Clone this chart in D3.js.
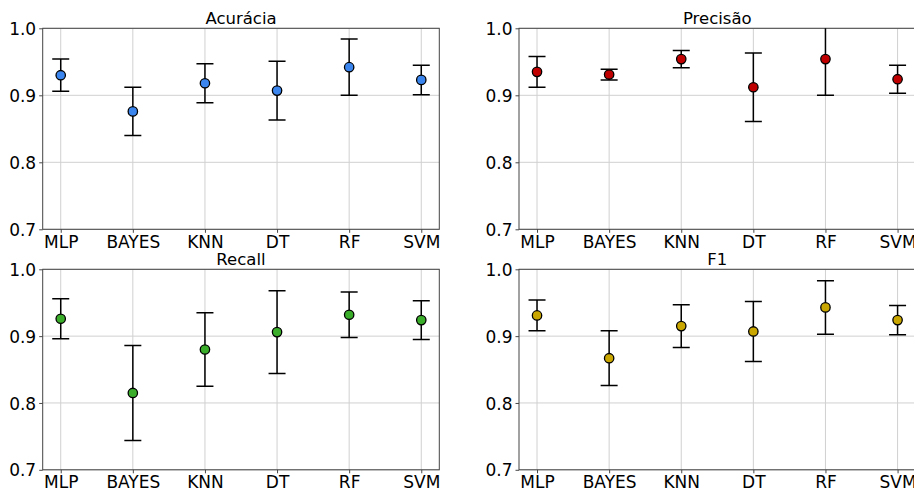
<!DOCTYPE html>
<html>
<head>
<meta charset="utf-8">
<script src="https://cdn.jsdelivr.net/npm/d3@7"></script>
<style>
  body { margin: 0; background: #fff; }
  svg { display: block; font-family: "DejaVu Sans", sans-serif; }
</style>
</head>
<body>
<div id="chart"></div>
<script>
// categories and tick labels
const models = ["MLP", "BAYES", "KNN", "DT", "RF", "SVM"]
const yTicks = [0.7, 0.8, 0.9, 1.0]

// mean score and std (error) for each metric
const accMean = [0.930, 0.876, 0.918, 0.907, 0.942, 0.923]
const accErr = [0.024, 0.036, 0.029, 0.044, 0.042, 0.022]
const precMean = [0.935, 0.931, 0.954, 0.912, 0.954, 0.924]
const precErr = [0.023, 0.008, 0.013, 0.051, 0.054, 0.021]
const recMean = [0.926, 0.815, 0.880, 0.906, 0.932, 0.924]
const recErr = [0.030, 0.071, 0.055, 0.062, 0.034, 0.029]
const f1Mean = [0.931, 0.867, 0.915, 0.907, 0.943, 0.924]
const f1Err = [0.023, 0.041, 0.032, 0.045, 0.040, 0.022]

const width = 914
const height = 491

const panels = [
    { title: "Acurácia", mean: accMean, err: accErr, color: "#3b86ee", x: 42.7, y: 28.3, h: 201 },
    { title: "Precisão", mean: precMean, err: precErr, color: "#c00000", x: 519, y: 28.3, h: 201 },
    { title: "Recall", mean: recMean, err: recErr, color: "#3aad2b", x: 42.7, y: 269.3, h: 200.5 },
    { title: "F1", mean: f1Mean, err: f1Err, color: "#c9a600", x: 519, y: 269.3, h: 200.5 }
]
const plotW = 396.6

var svg = d3.select("#chart")
    .append("svg")
    .attr("width", width)
    .attr("height", height)

panels.forEach(function (p, i) {
    const x = d3.scalePoint()
        .domain(models)
        .range([0, plotW])
        .padding(0.25)
    const y = d3.scaleLinear()
        .domain([0.7, 1.0])
        .range([p.h, 0])

    const g = svg.append("g")
        .attr("transform", `translate(${p.x},${p.y})`)

    g.append("clipPath")
        .attr("id", "clip" + i)
        .append("rect")
        .attr("width", plotW)
        .attr("height", p.h)

    // grid
    g.append("g")
        .selectAll("line")
        .data(yTicks)
        .enter()
        .append("line")
        .attr("x1", 0).attr("x2", plotW)
        .attr("y1", d => y(d)).attr("y2", d => y(d))
        .style("stroke", "#d0d0d0")
        .style("stroke-width", 1)
    g.append("g")
        .selectAll("line")
        .data(models)
        .enter()
        .append("line")
        .attr("x1", d => x(d)).attr("x2", d => x(d))
        .attr("y1", 0).attr("y2", p.h)
        .style("stroke", "#d0d0d0")
        .style("stroke-width", 1)

    // axes
    const xAxis = g.append("g")
        .attr("transform", `translate(0,${p.h})`)
        .call(d3.axisBottom(x).tickSize(3.5).tickPadding(3))
    const yAxis = g.append("g")
        .call(d3.axisLeft(y).tickValues(yTicks).tickFormat(d3.format(".1f")).tickSize(3.5).tickPadding(3))
    ;[xAxis, yAxis].forEach(function (a) {
        a.select(".domain").remove()
        a.selectAll("line").style("stroke", "#333").style("stroke-width", 0.9)
        a.selectAll("text").style("font-size", "17px").style("fill", "#000")
            .style("font-family", "'DejaVu Sans', sans-serif")
    })
    yAxis.selectAll("text").attr("dy", "0.36em")

    // frame
    g.append("rect")
        .attr("width", plotW)
        .attr("height", p.h)
        .style("fill", "none")
        .style("stroke", "#444")
        .style("stroke-width", 1)

    // error bars
    const eb = g.append("g").attr("clip-path", `url(#clip${i})`)
    const rows = models.map((m, k) => ({ m: m, v: p.mean[k], e: p.err[k] }))
    eb.selectAll(".stem")
        .data(rows)
        .enter()
        .append("line")
        .attr("x1", d => x(d.m)).attr("x2", d => x(d.m))
        .attr("y1", d => y(d.v - d.e)).attr("y2", d => y(d.v + d.e))
        .style("stroke", "#000").style("stroke-width", 1.5)
    ;[-1, 1].forEach(function (s) {
        eb.selectAll(".cap" + s)
            .data(rows)
            .enter()
            .append("line")
            .attr("x1", d => x(d.m) - 8.5).attr("x2", d => x(d.m) + 8.5)
            .attr("y1", d => y(d.v + s * d.e)).attr("y2", d => y(d.v + s * d.e))
            .style("stroke", "#000").style("stroke-width", 1.5)
    })
    eb.selectAll("circle")
        .data(rows)
        .enter()
        .append("circle")
        .attr("cx", d => x(d.m))
        .attr("cy", d => y(d.v))
        .attr("r", 4.7)
        .style("fill", p.color)
        .style("stroke", "#000")
        .style("stroke-width", 1.3)

    // title
    g.append("text")
        .attr("x", plotW / 2)
        .attr("y", -4.5)
        .attr("text-anchor", "middle")
        .style("font-size", "16.5px")
        .text(p.title)
})
</script>
</body>
</html>
